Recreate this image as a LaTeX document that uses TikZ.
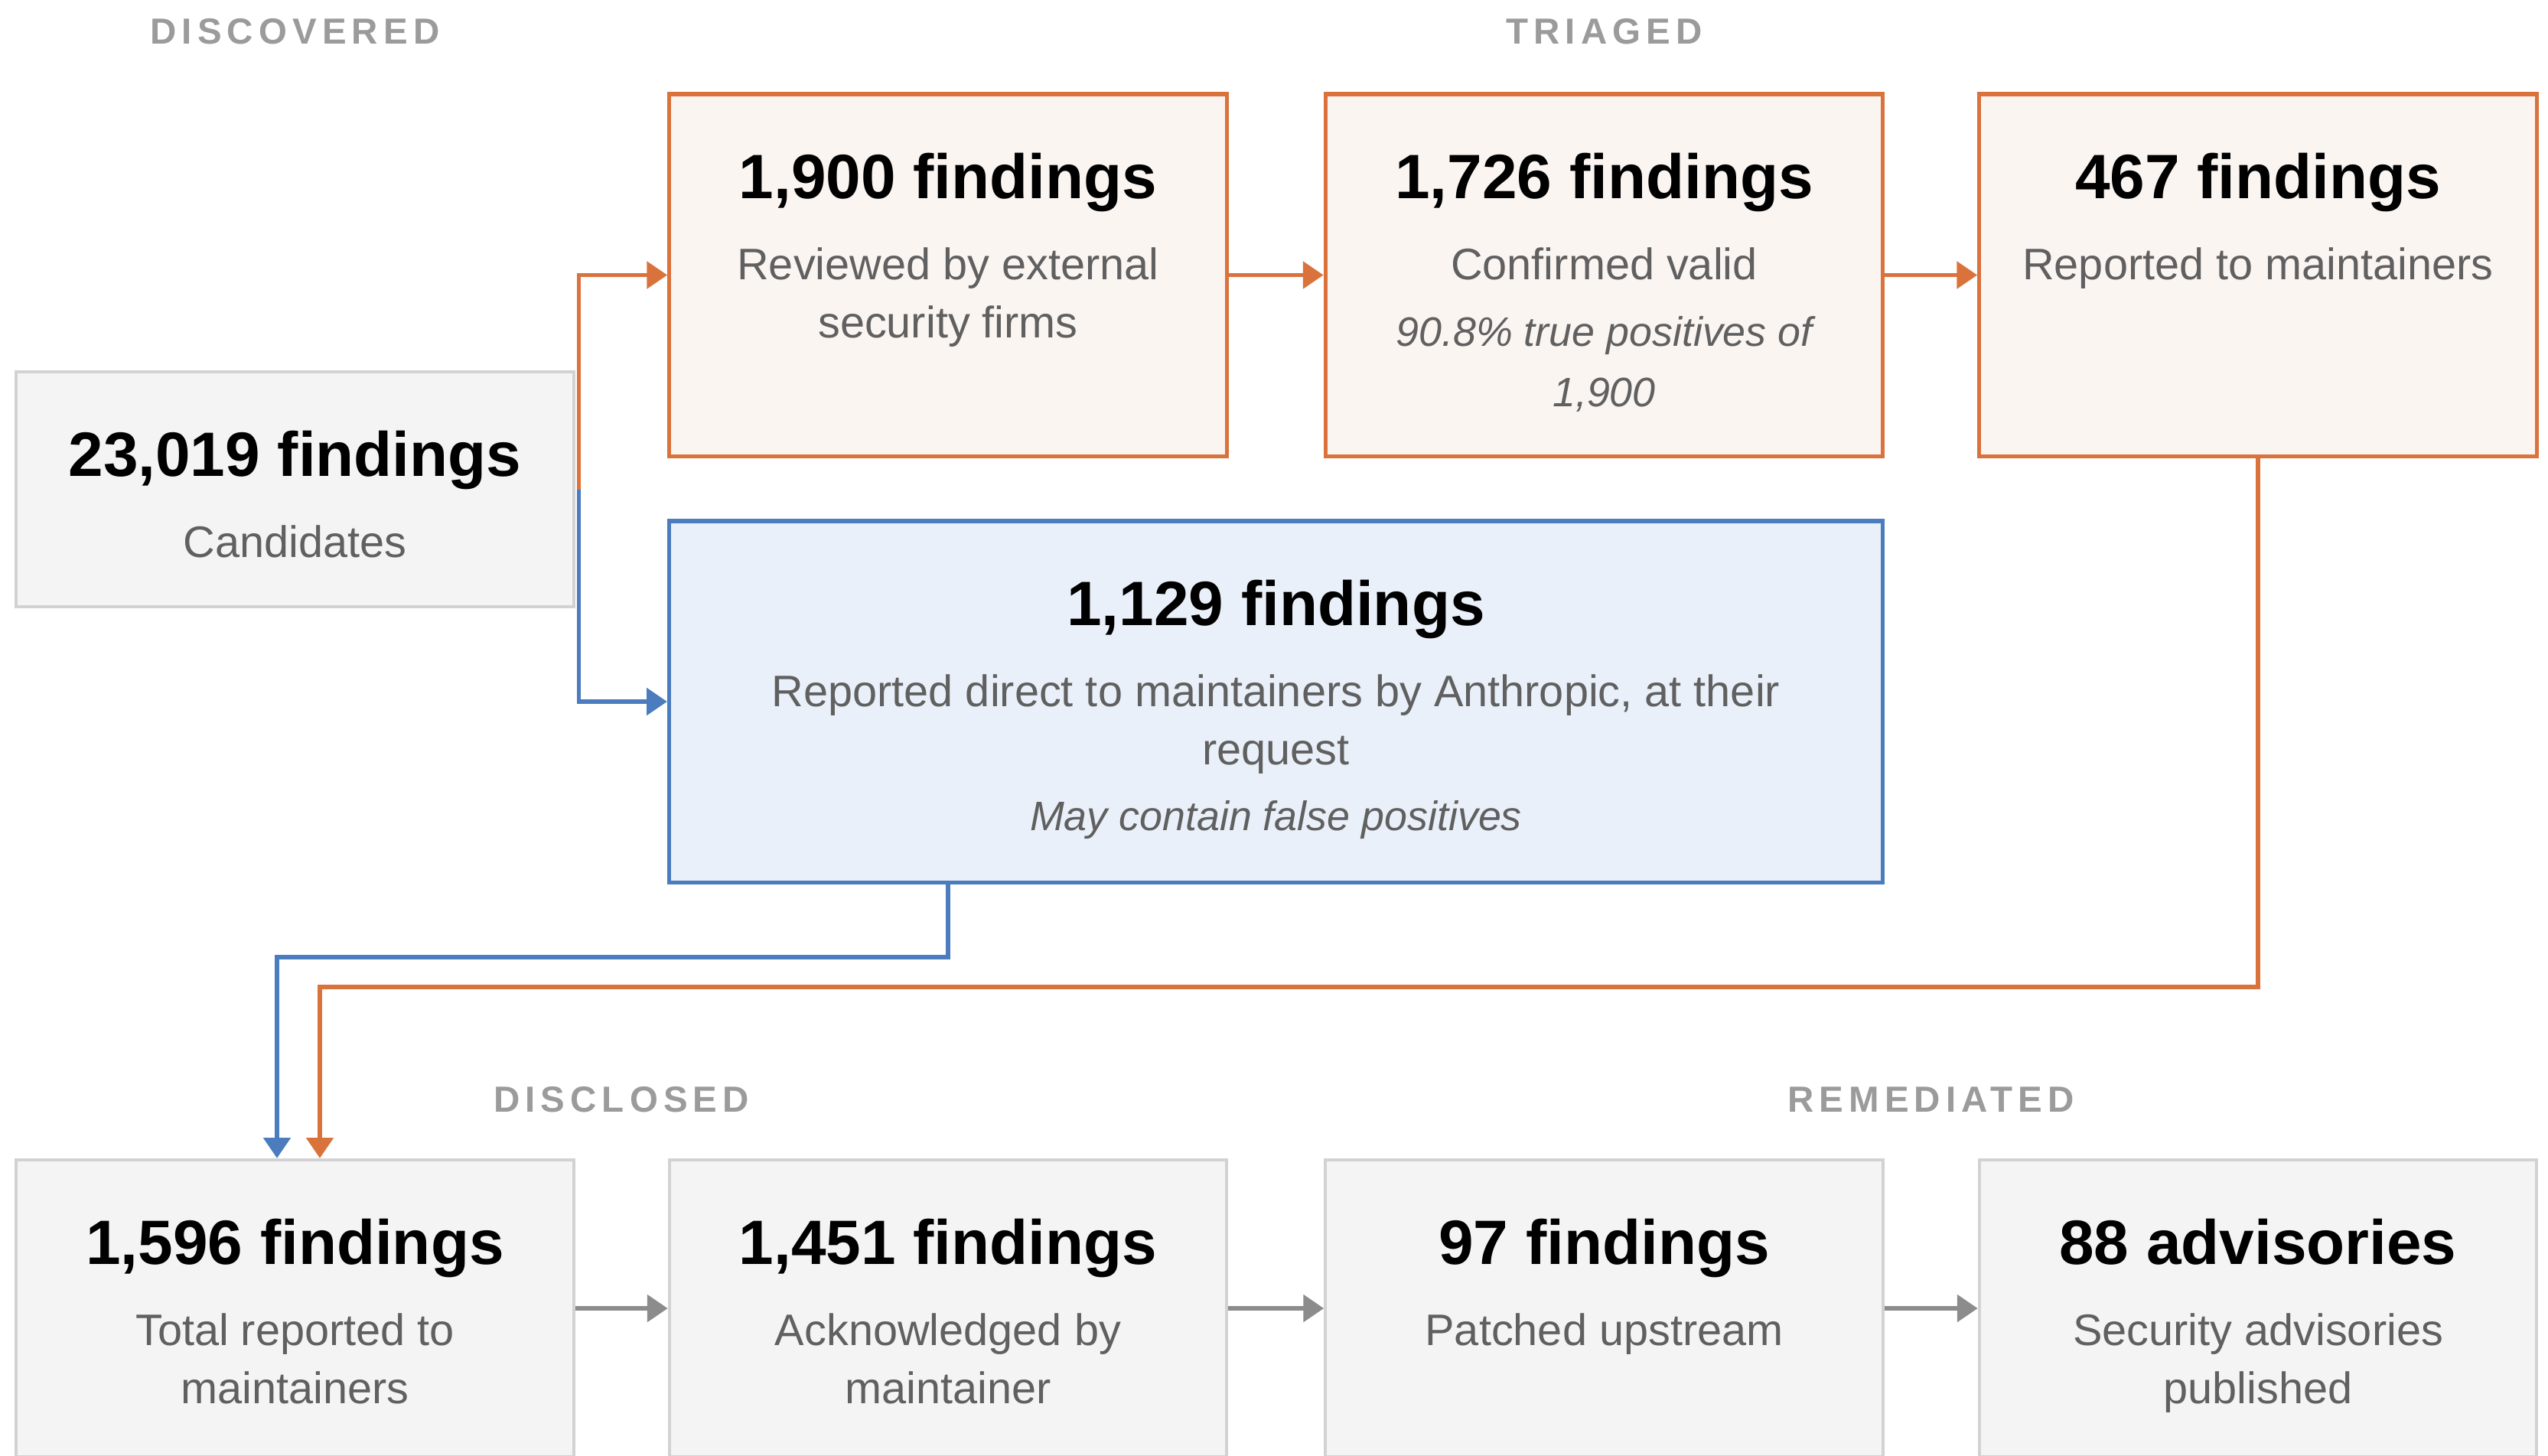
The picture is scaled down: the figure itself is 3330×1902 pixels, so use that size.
\documentclass[tikz,border=0pt]{standalone}
\usepackage{fontspec}
\setmainfont{Liberation Sans}
\newfontfamily\headfont[LetterSpace=15]{Liberation Sans}
\usetikzlibrary{arrows.meta,calc}

\definecolor{orangeline}{RGB}{218,114,60}
\definecolor{orangefill}{RGB}{251,245,242}
\definecolor{blueline}{RGB}{74,124,190}
\definecolor{bluefill}{RGB}{234,240,249}
\definecolor{grayline}{RGB}{210,210,210}
\definecolor{grayfill}{RGB}{244,244,244}
\definecolor{subgray}{RGB}{96,96,96}
\definecolor{headgray}{RGB}{155,155,155}
\definecolor{arrowgray}{RGB}{140,140,140}

\begin{document}
\begin{tikzpicture}[x=0.01cm,y=-0.01cm,
  box/.style={rectangle, inner sep=0pt, line width=1.5pt},
  graybox/.style={box, draw=grayline, fill=grayfill, line width=1.2pt},
  orangebox/.style={box, draw=orangeline, fill=orangefill},
  bluebox/.style={box, draw=blueline, fill=bluefill},
  title/.style={anchor=base, inner sep=0pt, font=\fontsize{23.3}{28}\selectfont\bfseries, text=black},
  sub/.style={anchor=base, inner sep=0pt, font=\fontsize{16.4}{22}\selectfont, text=subgray},
  note/.style={anchor=base, inner sep=0pt, font=\fontsize{15.3}{22}\selectfont\itshape, text=subgray},
  stage/.style={anchor=base, inner sep=0pt, font=\headfont\bfseries\fontsize{13.5}{16}\selectfont, text=headgray},
  flow/.style={line width=1.6pt, -{Triangle[length=7.6pt,width=9.9pt]}},
]
\useasboundingbox (0,0) rectangle (3330,1902);
\clip (0,0) rectangle (3330,1902);
\fill[white] (0,0) rectangle (3330,1902);

% stage headings
\node[stage] (hdisc) at (385.5,57) {DISCOVERED};
\node[stage] (htri) at (2096.5,57) {TRIAGED};
\node[stage] (hdisl) at (812,1453) {DISCLOSED};
\node[stage] (hrem) at (2523.5,1453) {REMEDIATED};

% discovered
\node[graybox, minimum width=7.29cm, minimum height=3.07cm] (cand) at (385.5,639.5) {};
\node[title] (candT) at ($(cand.north)+(0,139)$) {23,019 findings};
\node[sub] (candS) at ($(cand.north)+(0,245)$) {Candidates};

% triaged (external review path)
\node[orangebox, minimum width=7.28cm, minimum height=4.73cm] (f1900) at (1239,359.5) {};
\node[title] (f1900T) at ($(f1900.north)+(0,139)$) {1,900 findings};
\node[sub] (f1900S1) at ($(f1900.north)+(0,245)$) {Reviewed by external};
\node[sub] (f1900S2) at ($(f1900.north)+(0,321)$) {security firms};

\node[orangebox, minimum width=7.28cm, minimum height=4.73cm] (f1726) at (2096.5,359.5) {};
\node[title] (f1726T) at ($(f1726.north)+(0,139)$) {1,726 findings};
\node[sub] (f1726S) at ($(f1726.north)+(0,245)$) {Confirmed valid};
\node[note] (f1726N1) at ($(f1726.north)+(0,332)$) {90.8\% true positives of};
\node[note] (f1726N2) at ($(f1726.north)+(0,411)$) {1,900};

\node[orangebox, minimum width=7.28cm, minimum height=4.73cm] (f467) at (2951,359.5) {};
\node[title] (f467T) at ($(f467.north)+(0,139)$) {467 findings};
\node[sub] (f467S) at ($(f467.north)+(0,245)$) {Reported to maintainers};

% direct path
\node[bluebox, minimum width=15.85cm, minimum height=4.72cm] (direct) at (1667.5,917) {};
\node[title] (directT) at ($(direct.north)+(0,139)$) {1,129 findings};
\node[sub] (directS1) at ($(direct.north)+(0,245)$) {Reported direct to maintainers by Anthropic, at their};
\node[sub] (directS2) at ($(direct.north)+(0,321)$) {request};
\node[note] (directN) at ($(direct.north)+(0,407)$) {May contain false positives};

% disclosed and remediated
\node[graybox, minimum width=7.29cm, minimum height=3.88cm] (total) at (385.5,1710) {};
\node[title] (totalT) at ($(total.north)+(0,139)$) {1,596 findings};
\node[sub] (totalS1) at ($(total.north)+(0,245)$) {Total reported to};
\node[sub] (totalS2) at ($(total.north)+(0,321)$) {maintainers};

\node[graybox, minimum width=7.28cm, minimum height=3.88cm] (ack) at (1239,1710) {};
\node[title] (ackT) at ($(ack.north)+(0,139)$) {1,451 findings};
\node[sub] (ackS1) at ($(ack.north)+(0,245)$) {Acknowledged by};
\node[sub] (ackS2) at ($(ack.north)+(0,321)$) {maintainer};

\node[graybox, minimum width=7.28cm, minimum height=3.88cm] (patch) at (2096.5,1710) {};
\node[title] (patchT) at ($(patch.north)+(0,139)$) {97 findings};
\node[sub] (patchS) at ($(patch.north)+(0,245)$) {Patched upstream};

\node[graybox, minimum width=7.28cm, minimum height=3.88cm] (adv) at (2951,1710) {};
\node[title] (advT) at ($(adv.north)+(0,139)$) {88 advisories};
\node[sub] (advS1) at ($(adv.north)+(0,245)$) {Security advisories};
\node[sub] (advS2) at ($(adv.north)+(0,321)$) {published};

% connectors
\coordinate (fork) at ($(cand.east)+(4,0)$);
\draw[flow, orangeline] (fork) |- (f1900.west);
\draw[flow, blueline] (fork) |- (direct.west);
\draw[flow, orangeline] (f1900) -- (f1726);
\draw[flow, orangeline] (f1726) -- (f467);

\coordinate (bturn) at (362,1251);
\draw[flow, blueline] (direct.south -| f1900.south) |- (bturn) -- (bturn |- total.north);
\coordinate (oturn) at (418,1290);
\draw[flow, orangeline] (f467.south) |- (oturn) -- (oturn |- total.north);

\draw[flow, arrowgray] (total) -- (ack);
\draw[flow, arrowgray] (ack) -- (patch);
\draw[flow, arrowgray] (patch) -- (adv);
\end{tikzpicture}
\end{document}
